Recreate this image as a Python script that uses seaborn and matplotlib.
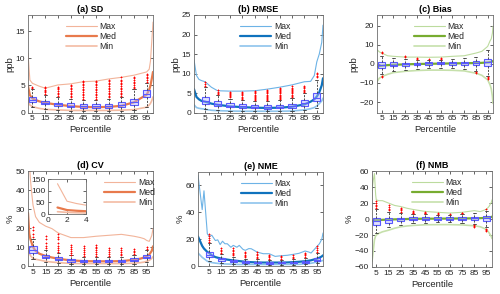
import matplotlib
matplotlib.use("Agg")
import matplotlib.pyplot as plt
import seaborn as sns
import pandas as pd

# ---------------- data ----------------
BOX_X = [5, 15, 25, 35, 45, 55, 65, 75, 85, 95]

# (a) SD
A_X   = [1.5, 3, 5, 10, 15, 25, 35, 45, 55, 65, 75, 85, 95, 97, 98, 99, 100]
A_MAX = [10.9, 6.0, 5.4, 4.9, 4.5, 5.1, 5.3, 5.7, 5.8, 6.2, 6.5, 6.9, 7.5, 8.0, 9.5, 13.0, 16.7]
A_MED = [4.9, 3.2, 2.6, 2.1, 1.8, 1.45, 1.2, 1.05, 1.0, 1.05, 1.25, 1.9, 3.3, 4.2, 5.0, 6.2, 7.5]
A_MIN = [2.3, 1.4, 1.1, 0.8, 0.6, 0.5, 0.4, 0.4, 0.4, 0.4, 0.45, 0.55, 1.0, 1.4, 1.7, 2.2, 2.9]
A_BMED = [2.4, 1.8, 1.5, 1.3, 1.2, 1.15, 1.2, 1.4, 2.0, 3.4]
A_Q1   = [2.0, 1.5, 1.2, 1.0, 0.9, 0.85, 0.9, 1.0, 1.4, 2.8]
A_Q3   = [2.9, 2.1, 1.85, 1.7, 1.5, 1.5, 1.6, 1.9, 2.6, 4.1]
A_WLO  = [1.0, 0.6, 0.4, 0.3, 0.3, 0.3, 0.3, 0.3, 0.5, 1.0]
A_WHI  = [4.3, 3.3, 2.9, 2.6, 2.4, 2.4, 2.6, 2.9, 4.3, 5.4]
A_FLY  = [[4.5, 4.7],
          [3.5, 3.8, 4.0, 4.2, 4.5, 4.7],
          [3.1, 3.4, 3.7, 4.0, 4.3, 4.6, 4.8],
          [2.8, 3.1, 3.4, 3.7, 4.0, 4.3, 4.6, 4.9, 5.1],
          [2.6, 2.9, 3.2, 3.5, 3.8, 4.1, 4.4, 4.7, 5.0, 5.3, 5.6, 5.9],
          [2.6, 2.9, 3.2, 3.5, 3.8, 4.1, 4.4, 4.7, 5.0, 5.3, 5.6, 5.9],
          [2.8, 3.1, 3.4, 3.7, 4.0, 4.3, 4.6, 4.9, 5.2, 5.5, 5.8, 6.1],
          [3.1, 3.4, 3.7, 4.0, 4.3, 4.6, 4.9, 5.2, 5.5, 5.8, 6.1, 6.5],
          [4.5, 4.8, 5.1, 5.4, 5.7, 6.0, 6.3, 6.6],
          [5.7, 6.0, 6.3, 6.6, 6.9, 7.2]]

# (b) RMSE
B_X   = [-4, -2, 0, 2, 5, 10, 15, 25, 35, 45, 55, 65, 75, 85, 90, 93, 95, 97, 99, 100]
B_MAX = [13.5, 9.5, 8.5, 8.2, 7.9, 6.5, 5.6, 5.5, 5.5, 5.6, 6.0, 6.5, 7.1, 7.9, 8.0, 9.5, 13.0, 15.0, 18.0, 22.4]
B_MED = [6.0, 4.0, 3.4, 3.0, 2.8, 2.3, 2.0, 1.6, 1.4, 1.25, 1.2, 1.25, 1.5, 2.1, 2.8, 3.4, 4.1, 5.2, 7.0, 8.8]
B_MIN = [2.0, 1.3, 1.1, 1.0, 0.85, 0.6, 0.5, 0.4, 0.35, 0.35, 0.35, 0.35, 0.4, 0.7, 1.0, 1.3, 1.7, 2.3, 3.0, 3.7]
B_BMED = [3.0, 2.2, 1.8, 1.6, 1.4, 1.35, 1.5, 1.7, 2.4, 3.8]
B_Q1   = [2.3, 1.7, 1.4, 1.2, 1.1, 1.05, 1.1, 1.3, 1.8, 3.0]
B_Q3   = [4.0, 2.9, 2.4, 2.1, 1.9, 1.85, 2.0, 2.3, 3.1, 5.0]
B_WLO  = [1.0, 0.6, 0.5, 0.4, 0.4, 0.4, 0.4, 0.4, 0.7, 1.2]
B_WHI  = [6.5, 4.5, 3.6, 3.2, 2.9, 2.9, 3.2, 3.7, 5.0, 8.3]
B_FLY  = [[6.8, 7.3, 7.8],
          [4.8, 5.1, 5.4, 5.7],
          [3.9, 4.2, 4.5, 4.8, 5.1, 5.4],
          [3.5, 3.8, 4.1, 4.4, 4.7, 5.0, 5.3],
          [3.1, 3.4, 3.7, 4.0, 4.3, 4.6, 4.9, 5.2, 5.5],
          [3.1, 3.4, 3.7, 4.0, 4.3, 4.6, 4.9, 5.2, 5.5, 5.8],
          [3.4, 3.7, 4.0, 4.3, 4.6, 4.9, 5.2, 5.5, 5.8, 6.1, 6.4],
          [4.0, 4.3, 4.6, 4.9, 5.2, 5.5, 5.8, 6.1, 6.4, 6.7],
          [5.3, 5.6, 5.9, 6.2, 6.5, 6.8],
          [9.0, 9.4, 9.8, 10.2]]

# (c) Bias
C_X   = [1, 3, 5, 10, 15, 25, 35, 45, 55, 65, 75, 85, 90, 95, 97, 98, 99, 99.5]
C_MAX = [7.4, 6.2, 5.6, 4.2, 3.9, 3.5, 3.5, 3.4, 3.5, 3.9, 4.2, 5.6, 6.5, 9.1, 12.0, 13.0, 16.0, 19.6]
C_MED = [-1.5, -1.2, -1.0, -0.7, -0.5, -0.3, -0.1, 0.0, 0.1, 0.2, 0.3, 0.4, 0.5, 0.7, 0.9, 1.0, 1.2, 1.5]
C_MIN = [-9.3, -7.5, -6.7, -5.5, -4.6, -3.9, -3.5, -3.3, -3.3, -3.4, -3.7, -4.9, -6.0, -8.4, -11.0, -13.0, -17.0, -20.7]
C_BMED = [-0.5, -0.4, -0.2, 0.0, 0.2, 0.2, 0.2, 0.3, 0.4, 0.8]
C_Q1   = [-2.3, -1.4, -1.0, -0.6, -0.4, -0.3, -0.4, -0.5, -0.6, -1.0]
C_Q3   = [1.2, 0.7, 0.6, 0.6, 0.8, 0.8, 0.9, 1.0, 1.3, 2.5]
C_WLO  = [-5.5, -4.0, -3.2, -2.5, -2.3, -2.0, -2.4, -2.8, -3.8, -6.5]
C_WHI  = [4.2, 3.0, 2.6, 2.0, 2.2, 2.2, 2.4, 3.0, 3.6, 7.0]
C_FLY  = [[5.5, 6.2, -6.3, -7.0],
          [],
          [3.4, 4.0],
          [2.6, 3.0],
          [2.6],
          [2.5, 3.0],
          [],
          [],
          [-4.3, -4.9],
          [-7.0, -7.6, -8.2]]

# (d) CV
D_X   = [1, 2, 3, 4, 5, 7, 10, 15, 20, 25, 30, 35, 45, 55, 65, 75, 85, 90, 93, 95, 97, 99, 100]
D_MAX = [130, 55, 45, 38, 32, 26, 23, 21, 19.7, 17.4, 16.2, 15, 15, 15.7, 16.2, 16.7, 15.7, 15.0, 14.4, 13.5, 13, 16, 19.7]
D_MED = [28, 17, 14, 12, 10, 8, 6.5, 5.3, 4.5, 3.9, 3.4, 3.0, 2.6, 2.5, 2.5, 2.6, 3.3, 3.9, 4.5, 5.1, 6.0, 8.0, 10.4]
D_MIN = [10, 7, 5.5, 4.7, 4.0, 3.6, 3.2, 2.5, 2.1, 1.8, 1.6, 1.4, 1.3, 1.3, 1.3, 1.3, 1.5, 1.8, 2.1, 2.5, 3.0, 4.0, 5.0]
D_BMED = [8.5, 4.9, 3.8, 3.0, 2.6, 2.5, 2.5, 2.6, 3.3, 5.0]
D_Q1   = [6.9, 4.0, 3.2, 2.4, 2.1, 2.0, 2.0, 2.1, 2.7, 4.2]
D_Q3   = [10.6, 5.8, 4.6, 3.7, 3.2, 3.1, 3.1, 3.3, 4.0, 6.0]
D_WLO  = [3.5, 2.0, 1.5, 1.2, 1.0, 1.0, 1.0, 1.0, 1.2, 2.2]
D_WHI  = [14.0, 8.5, 7.0, 5.6, 4.8, 4.6, 4.7, 5.0, 6.0, 8.5]
D_FLY  = [[15.5, 17, 19, 20.5],
          [9.5, 10.5, 12, 14, 16],
          [7.5, 8.5, 9.5, 10.5, 12, 14, 15.5, 17],
          [6, 7, 8, 9, 10, 11],
          [5.5, 6.5, 7.5, 8.5, 9.5, 10.5],
          [5.3, 6.3, 7.3, 8.3, 9.3, 10.3, 11.3],
          [5.3, 6.3, 7.3, 8.3, 9.3],
          [5.6, 6.6, 7.6, 8.6, 9.3],
          [6.5, 7.3, 8.1, 8.9],
          [9.2, 10.2]]
INSET_N = 4  # inset shows the first percentiles 1..4

# (e) NME
E_X   = [-4.5, -1, 0.5, 3.3, 5, 7, 10, 12, 14, 16, 18, 20, 23, 25, 28, 30, 33, 35, 38, 40,
         45, 50, 55, 60, 65, 70, 75, 80, 85, 88, 90, 95, 97, 99, 100]
E_MAX = [67.5, 42, 56, 24, 22, 23, 19, 19.5, 16, 18.5, 16.6, 16.6, 14, 15.4, 14, 15.4, 12.5, 11.7, 13, 12.9,
         10.4, 9.2, 9.2, 7.2, 7.7, 8.0, 8.7, 9.5, 11.2, 10.5, 9.7, 14.6, 16.6, 20, 24.6]
E_MED = [22, 15, 13, 10.5, 9.7, 8, 6.7, 6.2, 5.8, 5.4, 5.1, 4.8, 4.4, 4.2, 3.9, 3.7, 3.4, 3.2, 3.0, 2.9,
         2.7, 2.6, 2.6, 2.6, 2.6, 2.7, 2.9, 3.2, 3.6, 4.0, 4.3, 5.5, 6.2, 7.2, 8.0]
E_MIN = [9.7, 6.5, 5.5, 3.6, 3.0, 2.6, 2.2, 2.0, 1.8, 1.7, 1.6, 1.5, 1.4, 1.3, 1.25, 1.2, 1.2, 1.2, 1.2, 1.2,
         1.2, 1.2, 1.2, 1.2, 1.2, 1.2, 1.2, 1.3, 1.7, 1.9, 2.1, 3.0, 3.4, 3.9, 4.2]
E_BMED = [8.4, 5.0, 3.7, 3.0, 2.6, 2.4, 2.5, 2.6, 3.2, 4.8]
E_Q1   = [6.7, 4.0, 3.0, 2.4, 2.0, 1.9, 2.0, 2.1, 2.6, 3.8]
E_Q3   = [10.4, 6.0, 4.5, 3.6, 3.2, 3.0, 3.0, 3.2, 3.9, 6.0]
E_WLO  = [4.0, 2.0, 1.5, 1.2, 1.0, 1.0, 1.0, 1.0, 1.2, 2.0]
E_WHI  = [17, 9, 7, 5.5, 5, 4.7, 4.7, 5, 6, 9.5]
E_FLY  = [[18, 19.5, 21, 22.5, 24],
          [10, 11, 12, 13.5],
          [8, 9, 10, 11, 12, 13.5],
          [6.5, 7.5, 8.5, 9.5, 10.5],
          [6, 7, 8, 9, 10.5],
          [5.5, 6.5, 7.5, 8.5],
          [5.5, 6.5, 7.5],
          [6, 7, 8],
          [7, 8, 9, 10],
          [10.5, 12, 13.5, 15]]

# (f) NMB
F_X   = [1.5, 2.5, 3.5, 4.5, 5, 7, 10, 15, 20, 25, 30, 35, 45, 55, 65, 75, 85, 90, 95, 97, 99, 99.5]
F_MAX = [36, 48, 57, 30, 24, 23, 23, 20, 17, 15.6, 13.5, 12, 9.5, 8.4, 7.5, 8.4, 10.5, 9.3, 12.2, 15.6, 21, 24]
F_MED = [-3, -2.5, -2, -1.8, -1.5, -1.3, -1.0, -0.7, -0.4, -0.2, 0, 0.2, 0.4, 0.5, 0.6, 0.7, 0.9, 1.1, 1.5, 2, 2.5, 3]
F_MIN = [-53, -40, -26, -21, -20, -18, -16, -14, -11.5, -9.7, -8.7, -8, -7.2, -7.0, -7.0, -7.4, -8.4, -9.7, -13, -17, -22, -24.4]
F_BMED = [-2.0, -1.0, -0.5, 0.3, 0.5, 0.5, 0.6, 0.6, 0.8, 1.2]
F_Q1   = [-7.6, -4.5, -3.0, -1.5, -1.0, -1.0, -1.0, -1.2, -1.5, -2.0]
F_Q3   = [1.0, 1.5, 1.5, 2.0, 2.5, 2.5, 2.5, 2.5, 3.0, 4.0]
F_WLO  = [-18, -10, -7, -5, -4.5, -4, -4, -4.5, -6, -10]
F_WHI  = [12, 9, 7, 6, 6, 5.5, 5.5, 6, 7, 10]
F_FLY  = [[14, 16, 18, 20, 22],
          [11, 13, 15, 17],
          [9, 11, 13, 14],
          [7, 8, 9, 10],
          [7, 8, 9],
          [6.5, 7.5],
          [6.5],
          [7, 8],
          [-8, -9, -10],
          [-12, -13.5, -15, 12]]

TITLES = ["(a) SD", "(b) RMSE", "(c) Bias", "(d) CV", "(e) NME", "(f) NMB"]
YLABELS = ["ppb", "ppb", "ppb", "%", "%", "%"]
LEGEND_LABELS = ["Max", "Med", "Min"]

# ---------------- style ----------------
sns.set_theme(style="ticks")
plt.rcParams["font.family"] = ["Liberation Sans", "DejaVu Sans"]
TXT = "#262626"

ORANGE = ("#f2b49a", "#e87a4c", "#f3bba3")
BLUE = ("#6db3e6", "#0f72bd", "#8ec4ec")
GREEN = ("#bcdb9e", "#77ac30", "#c6e0ab")

fig = plt.figure(figsize=(5, 2.94), dpi=100)

panels = [
    dict(pos=[0.056, 0.617, 0.250, 0.332], xlim=(1.5, 100), ylim=(0, 18), yt=[0, 5, 10, 15],
         x=A_X, mx=A_MAX, md=A_MED, mn=A_MIN, col=ORANGE,
         box=(A_BMED, A_Q1, A_Q3, A_WLO, A_WHI, A_FLY), leg=0.30),
    dict(pos=[0.388, 0.617, 0.258, 0.332], xlim=(-4, 100), ylim=(0, 25), yt=[0, 5, 10, 15, 20, 25],
         x=B_X, mx=B_MAX, md=B_MED, mn=B_MIN, col=BLUE,
         box=(B_BMED, B_Q1, B_Q3, B_WLO, B_WHI, B_FLY), leg=0.36),
    dict(pos=[0.754, 0.617, 0.232, 0.332], xlim=(1, 99.5), ylim=(-25.5, 25.5), yt=[-20, -10, 0, 10, 20],
         x=C_X, mx=C_MAX, md=C_MED, mn=C_MIN, col=GREEN,
         box=(C_BMED, C_Q1, C_Q3, C_WLO, C_WHI, C_FLY), leg=0.32),
    dict(pos=[0.056, 0.095, 0.250, 0.323], xlim=(1, 100), ylim=(0, 50), yt=[0, 10, 20, 30, 40, 50],
         x=D_X, mx=D_MAX, md=D_MED, mn=D_MIN, col=ORANGE,
         box=(D_BMED, D_Q1, D_Q3, D_WLO, D_WHI, D_FLY), leg=0.61),
    dict(pos=[0.396, 0.095, 0.250, 0.320], xlim=(-4.5, 100), ylim=(0, 70), yt=[0, 20, 40, 60],
         x=E_X, mx=E_MAX, md=E_MED, mn=E_MIN, col=BLUE,
         box=(E_BMED, E_Q1, E_Q3, E_WLO, E_WHI, E_FLY), leg=0.34),
    dict(pos=[0.744, 0.092, 0.240, 0.326], xlim=(1.5, 99.5), ylim=(-60, 60), yt=[-60, -40, -20, 0, 20, 40, 60],
         x=F_X, mx=F_MAX, md=F_MED, mn=F_MIN, col=GREEN,
         box=(F_BMED, F_Q1, F_Q3, F_WLO, F_WHI, F_FLY), leg=0.33),
]


def style_axes(ax, fs=6):
    for s in ax.spines.values():
        s.set_visible(True)
        s.set_color("#6e6e6e")
        s.set_linewidth(0.6)
    ax.tick_params(direction="in", length=2, width=0.5, labelsize=fs, colors=TXT,
                   top=True, right=True, pad=2)
    ax.set_facecolor("white")


for i, p in enumerate(panels):
    ax = fig.add_axes(p["pos"])
    df = pd.DataFrame({"x": p["x"], "Max": p["mx"], "Med": p["md"], "Min": p["mn"]})
    widths = [0.8, 1.6, 1.2]
    for k, lab in enumerate(LEGEND_LABELS):
        sns.lineplot(data=df, x="x", y=lab, ax=ax, color=p["col"][k], lw=widths[k],
                     label=lab, sort=False, estimator=None, zorder=2)
    med, q1, q3, wlo, whi, fly = p["box"]
    stats = [dict(med=med[j], q1=q1[j], q3=q3[j], whislo=wlo[j], whishi=whi[j],
                  fliers=fly[j], label="") for j in range(len(BOX_X))]
    ax.bxp(stats, positions=BOX_X, widths=5.8, patch_artist=True, manage_ticks=False,
           capwidths=2.5,
           boxprops=dict(facecolor=(0.72, 0.72, 1.0, 0.45), edgecolor="#5a5aff", linewidth=0.8),
           medianprops=dict(color="#5a5aff", linewidth=0.8),
           whiskerprops=dict(color="#333333", linestyle=(0, (2.5, 1.5)), linewidth=0.6),
           capprops=dict(color="#333333", linewidth=0.6),
           flierprops=dict(marker="+", markeredgecolor="red", markersize=1.8, markeredgewidth=0.6))
    ax.set_xlim(*p["xlim"])
    ax.set_ylim(*p["ylim"])
    ax.set_xticks(BOX_X)
    ax.set_xticklabels([str(v) for v in BOX_X])
    ax.set_yticks(p["yt"])
    style_axes(ax)
    ax.set_xlabel("Percentile", fontsize=6.8, color=TXT, labelpad=2)
    ax.set_ylabel(YLABELS[i], fontsize=6.8, color=TXT, labelpad=1)
    ax.set_title(TITLES[i], fontsize=6.5, fontweight="bold", color="black", pad=2)
    ax.legend(loc="upper left", bbox_to_anchor=(p["leg"], 0.925), frameon=False,
              fontsize=6.2, handlelength=3.6, handletextpad=0.3, labelspacing=0.12,
              borderpad=0, borderaxespad=0, labelcolor=TXT)

    if i == 3:
        ins = fig.add_axes([0.096, 0.272, 0.076, 0.119])
        dfi = df.iloc[:INSET_N]
        for k, lab in enumerate(LEGEND_LABELS):
            sns.lineplot(data=dfi, x="x", y=lab, ax=ins, color=p["col"][k], lw=widths[k],
                         sort=False, estimator=None, legend=False)
        ins.set_xlim(0, 4)
        ins.set_ylim(0, 150)
        ins.set_xticks([0, 2, 4])
        ins.set_yticks([0, 50, 100, 150])
        style_axes(ins, fs=6)
        ins.set_xlabel("")
        ins.set_ylabel("")

fig.savefig("out.png", dpi=100)
